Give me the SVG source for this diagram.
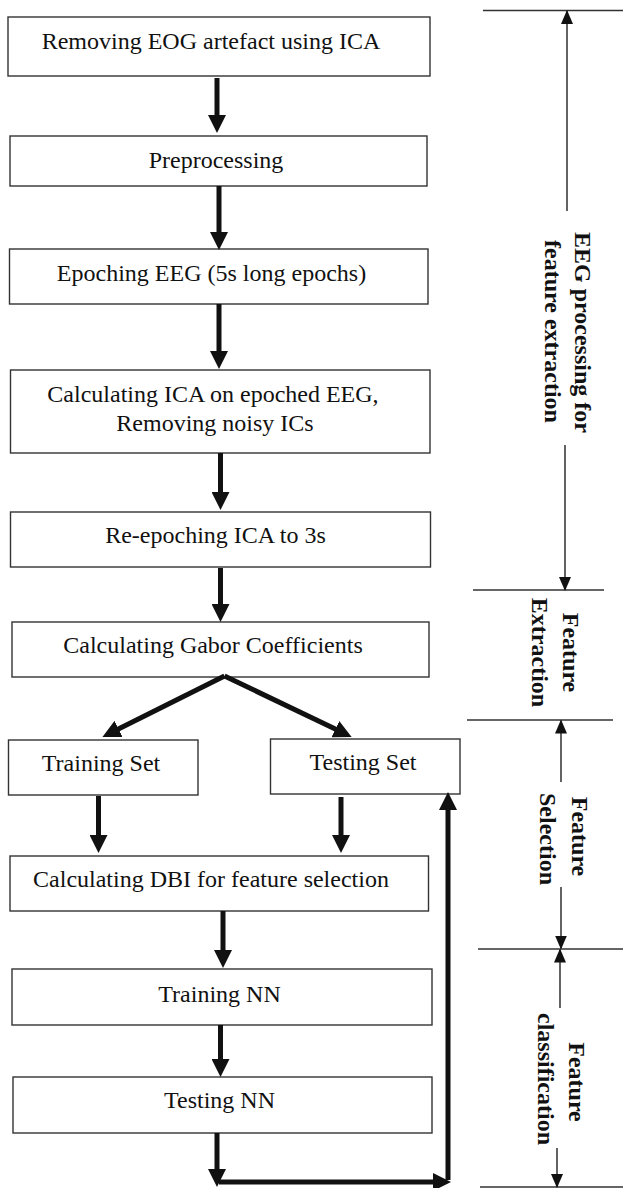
<svg xmlns="http://www.w3.org/2000/svg" width="623" height="1188" viewBox="0 0 623 1188">
  <style>
    .box { fill: #ffffff; stroke: #333333; stroke-width: 1.4; }
    .lbl { font-family: "Liberation Serif", "Times New Roman", serif; font-size: 24px; fill: #111111; text-anchor: middle; }
    .side { font-family: "Liberation Serif", "Times New Roman", serif; font-size: 24px; font-weight: bold; fill: #111111; text-anchor: middle; }
    .flow { stroke: #111111; stroke-width: 5; fill: none; marker-end: url(#thick); }
    .flat { stroke: #111111; stroke-width: 5; fill: none; }
    .rule { stroke: #333333; stroke-width: 1.4; fill: none; }
    .dim { stroke: #222222; stroke-width: 1.4; fill: none; marker-end: url(#thin); }
  </style>
  <defs>
    <marker id="thick" viewBox="0 0 18 18" markerWidth="18" markerHeight="18" markerUnits="userSpaceOnUse" refX="8" refY="9" orient="auto">
      <path d="M0,0 L18,9 L0,18 z" fill="#111111"/>
    </marker>
    <marker id="thin" viewBox="0 0 14 12" markerWidth="14" markerHeight="12" markerUnits="userSpaceOnUse" refX="13" refY="6" orient="auto">
      <path d="M0,0 L14,6 L0,12 z" fill="#111111"/>
    </marker>
  </defs>

  <rect width="623" height="1188" fill="#ffffff"/>

  <!-- processing steps -->
  <g id="remove-eog">
    <rect class="box" x="8" y="17" width="422" height="59"/>
    <text class="lbl" x="211" y="49">Removing EOG artefact using ICA</text>
  </g>
  <g id="preprocessing">
    <rect class="box" x="10" y="136" width="417" height="50"/>
    <text class="lbl" x="216" y="168">Preprocessing</text>
  </g>
  <g id="epoching">
    <rect class="box" x="9.5" y="249" width="418.5" height="55"/>
    <text class="lbl" x="211.5" y="281">Epoching EEG (5s long epochs)</text>
  </g>
  <g id="ica-epoched">
    <rect class="box" x="10.5" y="370" width="419.5" height="83"/>
    <text class="lbl" x="213" y="402">Calculating ICA on epoched EEG,</text>
    <text class="lbl" x="215" y="431">Removing noisy ICs</text>
  </g>
  <g id="re-epoching">
    <rect class="box" x="10.5" y="512" width="420" height="55"/>
    <text class="lbl" x="215.5" y="543">Re-epoching ICA to 3s</text>
  </g>
  <g id="gabor">
    <rect class="box" x="12" y="622" width="417" height="55"/>
    <text class="lbl" x="213" y="653">Calculating Gabor Coefficients</text>
  </g>
  <g id="training-set">
    <rect class="box" x="8.5" y="740" width="189.5" height="55"/>
    <text class="lbl" x="101" y="771">Training Set</text>
  </g>
  <g id="testing-set">
    <rect class="box" x="270.5" y="739" width="189.5" height="55"/>
    <text class="lbl" x="363" y="770">Testing Set</text>
  </g>
  <g id="dbi">
    <rect class="box" x="10" y="856" width="418.5" height="55"/>
    <text class="lbl" x="211" y="887">Calculating DBI for feature selection</text>
  </g>
  <g id="training-nn">
    <rect class="box" x="12" y="969" width="420" height="56"/>
    <text class="lbl" x="219.5" y="1002">Training NN</text>
  </g>
  <g id="testing-nn">
    <rect class="box" x="13" y="1077" width="419" height="56"/>
    <text class="lbl" x="219.5" y="1108">Testing NN</text>
  </g>

  <!-- flow connectors -->
  <g id="connectors">
    <line class="flow" x1="217" y1="78" x2="217" y2="123"/>
    <line class="flow" x1="219" y1="186" x2="219" y2="240"/>
    <line class="flow" x1="219" y1="304" x2="219" y2="359"/>
    <line class="flow" x1="220.5" y1="453" x2="220.5" y2="500"/>
    <line class="flow" x1="220.5" y1="568" x2="220.5" y2="612"/>
    <line class="flow" x1="224.5" y1="676" x2="111.4" y2="732.5"/>
    <line class="flow" x1="224.5" y1="676" x2="342.6" y2="732.6"/>
    <line class="flow" x1="98.5" y1="796" x2="98.5" y2="843"/>
    <line class="flow" x1="341" y1="797" x2="341" y2="843"/>
    <line class="flow" x1="223" y1="911" x2="223" y2="958"/>
    <line class="flow" x1="220.5" y1="1025" x2="220.5" y2="1067"/>
    <line class="flow" x1="217" y1="1133" x2="217" y2="1177"/>
    <line class="flow" x1="219" y1="1182" x2="441" y2="1182"/>
    <line class="flow" x1="448" y1="1180" x2="448" y2="802"/>
  </g>

  <!-- stage brackets on the right -->
  <g id="stage-rules">
    <line class="rule" x1="483" y1="10.5" x2="623" y2="10.5"/>
    <line class="rule" x1="473" y1="590" x2="604" y2="590"/>
    <line class="rule" x1="467" y1="720" x2="613" y2="720"/>
    <line class="rule" x1="478" y1="949" x2="623" y2="949"/>
    <line class="rule" x1="480" y1="1187" x2="623" y2="1187"/>
  </g>

  <g id="stage-eeg-processing">
    <line class="dim" x1="567" y1="211" x2="567" y2="11"/>
    <line class="dim" x1="565" y1="445" x2="565" y2="590"/>
    <text class="side" transform="translate(575,332.5) rotate(90)">EEG processing for</text>
    <text class="side" transform="translate(545,331.5) rotate(90)">feature extraction</text>
  </g>
  <g id="stage-feature-extraction">
    <text class="side" transform="translate(563,652.5) rotate(90)">Feature</text>
    <text class="side" transform="translate(532,652.5) rotate(90)">Extraction</text>
  </g>
  <g id="stage-feature-selection">
    <line class="dim" x1="561" y1="782" x2="561" y2="720.5"/>
    <line class="dim" x1="561" y1="887" x2="561" y2="948.5"/>
    <text class="side" transform="translate(572,836.5) rotate(90)">Feature</text>
    <text class="side" transform="translate(540,839) rotate(90)">Selection</text>
  </g>
  <g id="stage-feature-classification">
    <line class="dim" x1="560" y1="1008" x2="560" y2="949.5"/>
    <line class="dim" x1="557" y1="1148" x2="557" y2="1187"/>
    <text class="side" transform="translate(569,1082) rotate(90)">Feature</text>
    <text class="side" transform="translate(538,1079) rotate(90)">classification</text>
  </g>
</svg>
